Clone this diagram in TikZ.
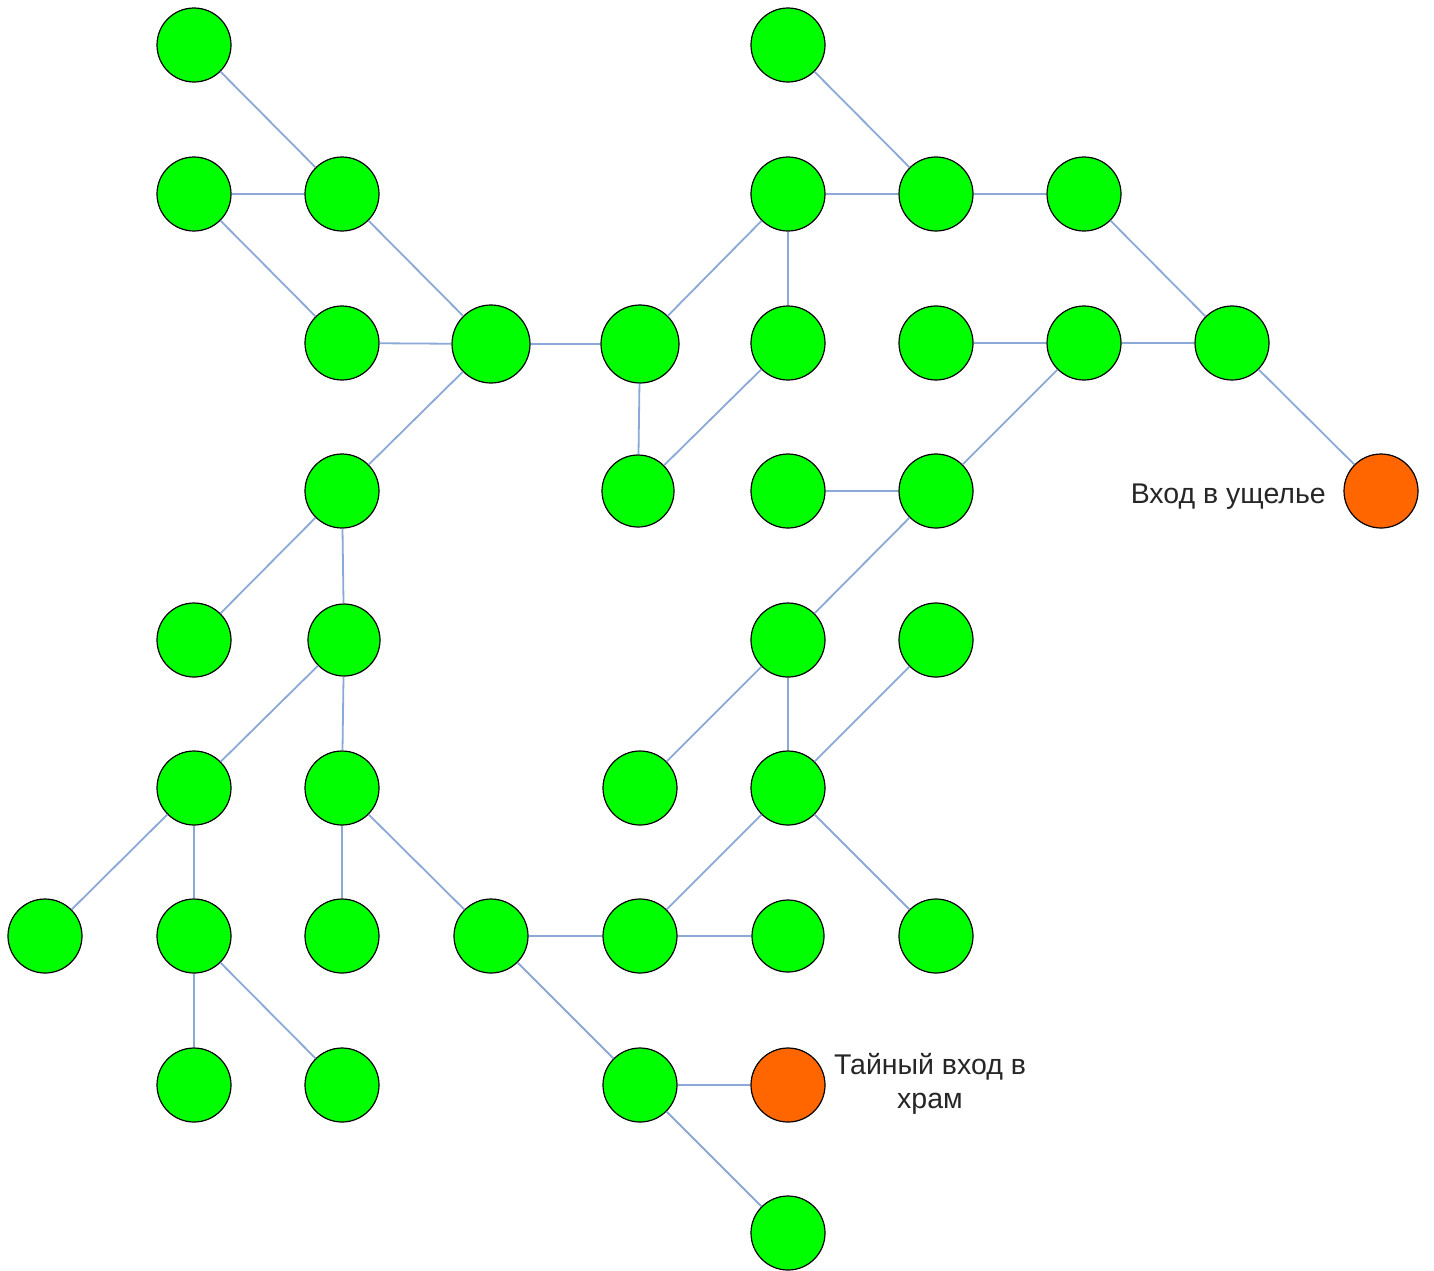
\documentclass[tikz,border=0pt]{standalone}
\usepackage{fontspec}
\setmainfont{Liberation Sans}
\definecolor{gfill}{RGB}{0,255,0}
\definecolor{ofill}{RGB}{255,102,0}
\definecolor{edgec}{RGB}{140,168,215}
\begin{document}
\begin{tikzpicture}[x=1pt,y=-1pt,
  gn/.style={circle,draw=black,line width=1.2pt,fill=gfill,minimum size=74pt,inner sep=0pt},
  bign/.style={gn,minimum size=78pt},
  on/.style={gn,fill=ofill},
  ed/.style={draw=edgec,line width=1.8pt},
  lbl/.style={font=\fontsize{28.5}{34}\selectfont,text=black!85,align=center,inner sep=0pt}]
\useasboundingbox (0,0) rectangle (1434,1270);
% row 0
\node[gn] (a1) at (194,45) {};
\node[gn] (a2) at (788,45) {};
% row 1
\node[gn] (b1) at (194,194) {};
\node[gn] (b2) at (342,194) {};
\node[gn] (b3) at (788,194) {};
\node[gn] (b4) at (936,194) {};
\node[gn] (b5) at (1084,194) {};
% row 2
\node[gn] (c1) at (342,343) {};
\node[bign] (c2) at (491,344) {};
\node[bign] (c3) at (640,344) {};
\node[gn] (c4) at (788,343) {};
\node[gn] (c5) at (936,343) {};
\node[gn] (c6) at (1084,343) {};
\node[gn] (c7) at (1232,343) {};
% row 3
\node[gn] (d1) at (342,491) {};
\node[gn,minimum size=72pt] (d2) at (638,491) {};
\node[gn] (d3) at (788,491) {};
\node[gn] (d4) at (936,491) {};
\node[on] (d5) at (1381,491) {};
% row 4
\node[gn] (e1) at (194,640) {};
\node[gn,minimum size=72pt] (e2) at (344,640) {};
\node[gn] (e3) at (788,640) {};
\node[gn] (e4) at (936,640) {};
% row 5
\node[gn] (f1) at (194,788) {};
\node[gn] (f2) at (342,788) {};
\node[gn] (f3) at (640,788) {};
\node[gn] (f4) at (788,788) {};
% row 6
\node[gn] (g1) at (45,936) {};
\node[gn] (g2) at (194,936) {};
\node[gn] (g3) at (342,936) {};
\node[gn] (g4) at (491,936) {};
\node[gn] (g5) at (640,936) {};
\node[gn,minimum size=72pt] (g6) at (788,936) {};
\node[gn] (g7) at (936,936) {};
% row 7
\node[gn] (h1) at (194,1085) {};
\node[gn] (h2) at (342,1085) {};
\node[gn] (h3) at (640,1085) {};
\node[on] (h4) at (788,1085) {};
% row 8
\node[gn] (i1) at (788,1233) {};
% labels
\node[lbl,anchor=east] (l1) at (1326,497) {Вход в ущелье};
\node[lbl] (l2) at (930,1084) {Тайный вход в\\храм};
% edges
\foreach \u/\v in {a1/b2,b1/b2,b1/c1,b2/c2,c1/c2,c2/c3,c2/d1,c3/b3,c3/d2,d2/c4,b3/c4,
  a2/b4,b3/b4,b4/b5,b5/c7,c5/c6,c6/c7,c7/d5,c6/d4,d3/d4,d4/e3,d1/e1,d1/e2,e2/f1,e2/f2,
  f1/g1,f1/g2,g2/h1,g2/h2,f2/g3,f2/g4,g4/g5,g4/h3,g5/f4,g5/g6,e3/f3,e3/f4,e4/f4,f4/g7,
  h3/h4,h3/i1}
  {\draw[ed] (\u) -- (\v);}
\end{tikzpicture}
\end{document}
